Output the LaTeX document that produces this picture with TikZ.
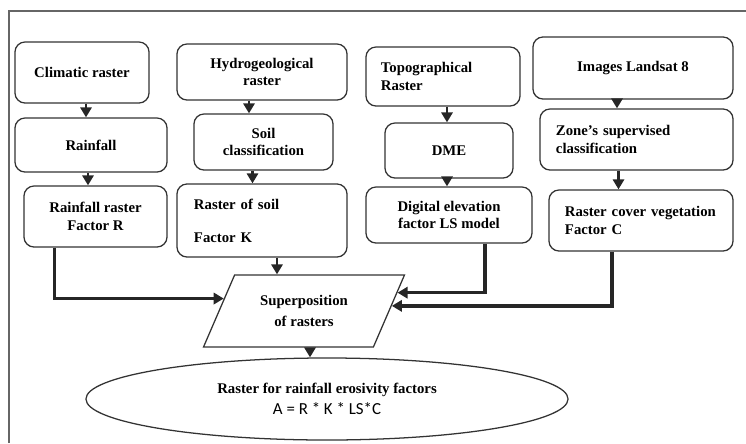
\documentclass[tikz,border=0pt]{standalone}
\usepackage{fontspec}
\setmainfont{Liberation Serif}
\newfontfamily\formulafont{Carlito}
\usetikzlibrary{shapes.geometric, arrows.meta, positioning, calc}

\begin{document}
\begin{tikzpicture}[x=0.025cm, y=-0.025cm,
    stepbox/.style={rectangle, rounded corners=2.5mm, draw=black!80, line width=0.9pt, align=center, inner sep=0pt, font=\bfseries\fontsize{10.5}{12.5}\selectfont},
    leftbox/.style={stepbox, align=left},
    superpose/.style={trapezium, trapezium left angle=58, trapezium right angle=122, trapezium stretches=true, draw=black!80, line width=0.9pt, align=center, inner sep=0pt, minimum width=5.05cm, minimum height=1.8cm, font=\bfseries\fontsize{10.5}{15}\selectfont},
    result/.style={ellipse, draw=black!80, line width=0.9pt, align=center, inner sep=0pt, minimum width=12.05cm, minimum height=2.05cm, font=\bfseries\fontsize{10.5}{12.5}\selectfont},
    arrow/.style={-{Triangle[length=2.5mm, width=2.8mm]}, line width=1.8pt, black!85},
    link/.style={arrow, line width=2.4pt}
]
\useasboundingbox (0,0) rectangle (746,443);
\draw[black!60, line width=1.3pt] (9,443) -- (9,11) -- (746,11);

\node[stepbox, minimum width=3.35cm, minimum height=1.525cm] (clim) at (82,72.5) {Climatic raster};
\node[stepbox, minimum width=3.8cm, minimum height=1.35cm] (rain) at (91,145) {Rainfall};
\node[stepbox, minimum width=3.575cm, minimum height=1.525cm] (rainR) at (95.5,216.5) {Rainfall raster\\Factor R};

\node[stepbox, minimum width=4.25cm, minimum height=1.4cm] (hydro) at (262,72) {Hydrogeological\\raster};
\node[stepbox, minimum width=3.475cm, minimum height=1.4cm] (soil) at (263.5,142) {Soil\\classification};
\node[leftbox, minimum width=4.25cm, minimum height=1.825cm, text width=3.4cm] (rsoil) at (262,220.5) {Raster of soil\\[3.8mm]Factor K};

\node[leftbox, minimum width=3.85cm, minimum height=1.475cm, text width=3.1cm] (topo) at (443,76.5) {Topographical\\Raster};
\node[stepbox, minimum width=3.2cm, minimum height=1.375cm] (dme) at (449,150.5) {DME};
\node[stepbox, minimum width=4.15cm, minimum height=1.4cm] (dem) at (449,215) {Digital elevation\\factor LS model};

\node[stepbox, minimum width=5cm, minimum height=1.55cm] (land) at (633,68) {Images Landsat 8};
\node[leftbox, minimum width=4.825cm, minimum height=1.525cm, text width=4.025cm] (zone) at (636.5,139.5) {Zone's supervised\\classification};
\node[leftbox, minimum width=4.6cm, minimum height=1.525cm, text width=3.8cm] (veg) at (641,220.5) {Raster cover vegetation\\Factor C};

\node[superpose] (sup) at (304,311) {Superposition\\of rasters};
\node[result] (ell) at (327,399) {Raster for rainfall erosivity factors\\[2pt]{\formulafont\mdseries\fontsize{12}{14}\selectfont A = R * K * LS*C}};

% points on the slanted sides
\coordinate (supL) at ($(sup.top left corner)!0.33!(sup.bottom left corner)$);
\coordinate (supR1) at ($(sup.top right corner)!0.25!(sup.bottom right corner)$);
\coordinate (supR2) at ($(sup.top right corner)!0.43!(sup.bottom right corner)$);

\draw[arrow] ([shift={(4,0)}]clim.south) coordinate (a1) -- (a1 |- rain.north);
\draw[arrow] ([shift={(-3,0)}]rain.south) coordinate (a2) -- (a2 |- rainR.north);
\draw[arrow] ([shift={(-13,0)}]hydro.south) coordinate (a3) -- (a3 |- soil.north);
\draw[arrow] ([shift={(-11,0)}]soil.south) coordinate (a4) -- (a4 |- rsoil.north);
\draw[arrow] ([shift={(4,0)}]topo.south) coordinate (a5) -- (a5 |- dme.north);
\draw[arrow] ([shift={(-2,0)}]dme.south) coordinate (a6) -- (a6 |- dem.north);
\draw[arrow] ([shift={(-16,0)}]land.south) coordinate (a7) -- (a7 |- zone.north);
\draw[arrow] ([shift={(-18,0)}]zone.south) coordinate (a8) -- (a8 |- veg.north);

\draw[link] ([shift={(-41,0)}]rainR.south) |- (supL);
\draw[arrow] ([shift={(15,0)}]rsoil.south) coordinate (a9) -- (a9 |- sup.north);
\draw[link] ([shift={(36,0)}]dem.south) |- (supR1);
\draw[link] ([shift={(-29,0)}]veg.south) |- (supR2);
\draw[arrow] ([shift={(6,0)}]sup.south) coordinate (a10) -- (a10 |- ell.north);
\end{tikzpicture}
\end{document}
